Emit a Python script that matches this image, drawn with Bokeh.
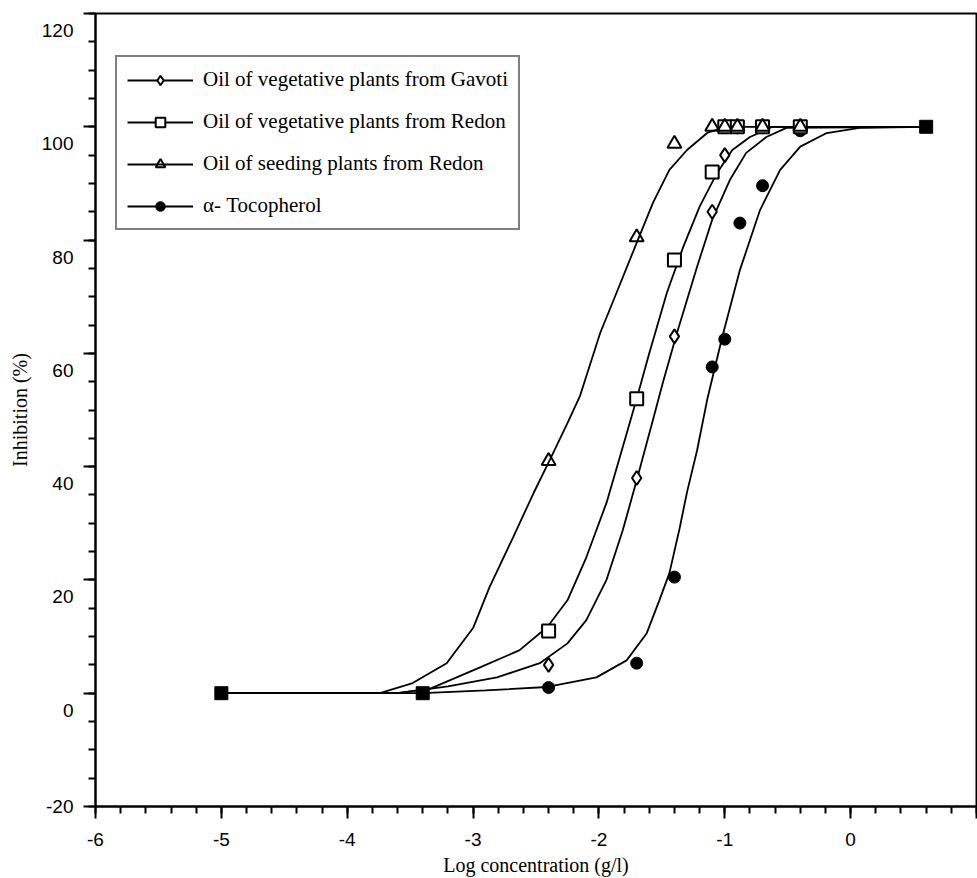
from bokeh.plotting import figure
from bokeh.models import (Range1d, SingleIntervalTicker, FixedTicker, Legend, LegendItem,
                          LinearAxis)
from bokeh.embed import file_html
from bokeh.resources import INLINE

# ---- axis ticks ----
x_ticks = [-6, -5, -4, -3, -2, -1, 0, 1]
x_tick_labels = ["-6", "-5", "-4", "-3", "-2", "-1", "0", ""]
y_ticks = [-20, 0, 20, 40, 60, 80, 100, 120]
y_tick_labels = ["-20", "0", "20", "40", "60", "80", "100", "120"]

# ---- measured data points (log concentration g/l vs inhibition %) ----
common_x = [-5.0, -3.4, 0.6]
common_y = [0.0, 0.0, 100.0]

gav_x = [-2.4, -1.7, -1.4, -1.1, -1.0, -0.9, -0.7, -0.4]
gav_y = [5.0, 38.0, 63.0, 85.0, 95.0, 100.0, 100.0, 100.0]

red_x = [-2.4, -1.7, -1.4, -1.1, -1.0, -0.9, -0.7, -0.4]
red_y = [11.0, 52.0, 76.5, 92.0, 100.0, 100.0, 100.0, 100.0]

seed_x = [-2.4, -1.7, -1.4, -1.1, -1.0, -0.9, -0.7, -0.4]
seed_y = [41.0, 80.5, 97.0, 100.0, 100.0, 100.0, 100.0, 100.0]

toc_x = [-2.4, -1.7, -1.4, -1.1, -1.0, -0.88, -0.7, -0.4]
toc_y = [1.0, 5.3, 20.5, 57.6, 62.5, 83.0, 89.6, 99.3]

# ---- fitted curves ----
seed_cx = [-5.0, -3.74, -3.48, -3.21, -3.0, -2.87, -2.68, -2.52, -2.39, -2.25, -2.15,
           -1.99, -1.86, -1.70, -1.57, -1.44, -1.30, -1.14, -1.0, 0.6]
seed_cy = [0.0, 0.0, 1.8, 5.3, 11.5, 18.7, 27.6, 35.3, 41.2, 47.7, 52.5,
           63.6, 70.7, 79.5, 86.6, 92.4, 95.9, 98.9, 100.0, 100.0]

red_cx = [-5.0, -3.6, -3.34, -2.94, -2.63, -2.41, -2.25, -2.10, -1.94, -1.81, -1.70,
          -1.60, -1.46, -1.33, -1.20, -1.06, -0.94, -0.80, -0.62, 0.6]
red_cy = [0.0, 0.0, 0.8, 4.6, 7.6, 11.7, 16.4, 24.0, 33.6, 43.5, 52.0,
          60.0, 70.7, 78.8, 85.9, 91.9, 95.9, 98.2, 100.0, 100.0]

gav_cx = [-5.0, -3.6, -3.2, -2.81, -2.47, -2.25, -2.10, -1.94, -1.81, -1.70, -1.58,
          -1.49, -1.38, -1.22, -1.10, -0.96, -0.83, -0.67, -0.51, 0.6]
gav_cy = [0.0, 0.0, 1.2, 2.8, 5.3, 8.8, 12.9, 20.0, 28.8, 37.6, 47.5,
          55.0, 63.6, 75.3, 83.6, 90.6, 95.4, 98.2, 99.8, 100.0]

toc_cx = [-5.0, -3.4, -2.9, -2.41, -2.02, -1.78, -1.62, -1.52, -1.44, -1.36, -1.30,
          -1.22, -1.14, -1.02, -0.88, -0.72, -0.56, -0.40, -0.19, 0.07, 0.6]
toc_cy = [0.0, 0.0, 0.5, 1.1, 2.8, 5.8, 10.6, 16.4, 21.2, 29.0, 35.5,
          42.9, 51.8, 62.9, 74.7, 85.3, 92.4, 96.5, 98.9, 99.8, 100.0]

labels = ["Oil of vegetative plants from Gavoti",
          "Oil of vegetative plants from Redon",
          "Oil of seeding plants from Redon",
          "\u03b1- Tocopherol"]

SERIF = "Liberation Serif"
SANS = "Liberation Sans"

Y_MIN, Y_MAX = -20, 120
LAB_SHIFT = 3  # the reference prints each y label about 3 units below its tick

p = figure(width=977, height=878, x_range=Range1d(-6, 1), y_range=Range1d(Y_MIN, Y_MAX),
           output_backend="svg", toolbar_location=None,
           min_border_left=95, min_border_right=1, min_border_top=13, min_border_bottom=72)

p.xgrid.visible = False
p.ygrid.visible = False
p.outline_line_color = "black"
p.outline_line_width = 2
p.background_fill_color = "white"
p.border_fill_color = "white"

p.xaxis.ticker = SingleIntervalTicker(interval=1, num_minor_ticks=5)
p.yaxis.ticker = SingleIntervalTicker(interval=20, num_minor_ticks=4)

for ax in (p.xaxis[0], p.yaxis[0]):
    ax.axis_line_width = 2
    ax.axis_line_color = "black"
    ax.major_tick_line_width = 2
    ax.minor_tick_line_width = 2
    ax.major_tick_line_color = "black"
    ax.minor_tick_line_color = "black"
    ax.major_tick_out = 12
    ax.major_tick_in = 0
    ax.minor_tick_out = 7
    ax.minor_tick_in = 0
    ax.major_label_text_font = SANS
    ax.major_label_text_font_size = "19px"
    ax.major_label_text_color = "black"
    ax.axis_label_text_font = SERIF
    ax.axis_label_text_font_size = "20px"
    ax.axis_label_text_font_style = "normal"
    ax.axis_label_text_color = "black"

p.xaxis.axis_label = "Log concentration (g/l)"
p.xaxis.major_label_overrides = {t: s for t, s in zip(x_ticks, x_tick_labels)}
p.xaxis.major_label_standoff = 14
p.xaxis.axis_label_standoff = 5

# main y axis: line and ticks only
p.yaxis.major_label_overrides = {t: "" for t in y_ticks}
p.yaxis.major_label_standoff = 0

# label axis on a shifted range, so each label sits slightly below its tick
lab_lo = Y_MIN + LAB_SHIFT
p.extra_y_ranges = {"lab": Range1d(lab_lo, Y_MAX + LAB_SHIFT)}
lab_ticks = [max(t, lab_lo) for t in y_ticks]
lab_axis = LinearAxis(y_range_name="lab", ticker=FixedTicker(ticks=lab_ticks, minor_ticks=[]),
                      axis_label="Inhibition (%)")
lab_axis.major_label_overrides = {t: s for t, s in zip(lab_ticks, y_tick_labels)}
lab_axis.axis_line_color = None
lab_axis.major_tick_line_color = None
lab_axis.minor_tick_line_color = None
lab_axis.major_tick_out = 0
lab_axis.major_tick_in = 0
lab_axis.minor_tick_out = 0
lab_axis.minor_tick_in = 0
lab_axis.major_label_standoff = 10
lab_axis.major_label_text_font = SANS
lab_axis.major_label_text_font_size = "19px"
lab_axis.major_label_text_color = "black"
lab_axis.axis_label_text_font = SERIF
lab_axis.axis_label_text_font_size = "20px"
lab_axis.axis_label_text_font_style = "normal"
lab_axis.axis_label_text_color = "black"
lab_axis.axis_label_standoff = 8
p.add_layout(lab_axis, "left")

lw = 1.8
l_gav = p.line(gav_cx, gav_cy, line_color="black", line_width=lw)
l_red = p.line(red_cx, red_cy, line_color="black", line_width=lw)
l_seed = p.line(seed_cx, seed_cy, line_color="black", line_width=lw)
l_toc = p.line(toc_cx, toc_cy, line_color="black", line_width=lw)

m_toc = p.scatter(toc_x, toc_y, marker="circle", size=12, fill_color="black",
                  line_color="black", line_width=1)
m_gav = p.scatter(gav_x, gav_y, marker="diamond", size=14, fill_color="white",
                  line_color="black", line_width=2)
m_red = p.scatter(red_x, red_y, marker="square", size=13, fill_color="white",
                  line_color="black", line_width=2)
m_seed = p.scatter(seed_x, seed_y, marker="triangle", size=14, fill_color=None,
                   line_color="black", line_width=2)
p.scatter(common_x, common_y, marker="square", size=13, fill_color="black",
          line_color="black")

items = [LegendItem(label=labels[0], renderers=[l_gav, m_gav]),
         LegendItem(label=labels[1], renderers=[l_red, m_red]),
         LegendItem(label=labels[2], renderers=[l_seed, m_seed]),
         LegendItem(label=labels[3], renderers=[l_toc, m_toc])]

legend = Legend(items=items, location=(20, 576),
                label_text_font=SERIF, label_text_font_size="21px",
                label_text_color="black",
                glyph_width=66, glyph_height=24, label_height=24,
                label_standoff=10, spacing=17, padding=10, margin=0,
                border_line_color="black", border_line_width=2,
                background_fill_color="white", background_fill_alpha=1.0)
p.add_layout(legend, "center")

open("out.html", "w").write(file_html(p, INLINE))
